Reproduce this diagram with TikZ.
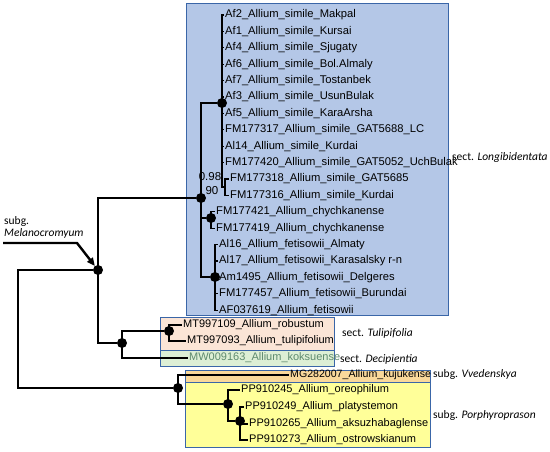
\documentclass[tikz,border=0pt]{standalone}
\usepackage{fontspec}
\setmainfont{Liberation Sans}
\newfontfamily\calfont{Carlito}
\usetikzlibrary{arrows.meta}
\definecolor{longblue}{HTML}{B4C7E7}
\definecolor{boxedge}{HTML}{3A66A8}
\definecolor{tulpink}{HTML}{FBE5D6}
\definecolor{decgreen}{HTML}{DDEFD5}
\definecolor{vvedorange}{HTML}{F9D89A}
\definecolor{porphyellow}{HTML}{FFFF99}
\definecolor{mwgreen}{HTML}{5E8A6E}

\begin{document}
\begin{tikzpicture}[x=1pt, y=-1pt,
  leaf/.style={anchor=west, inner sep=1pt, font=\fontsize{11.2}{13}\selectfont},
  leafs/.style={leaf, font=\fontsize{11}{13}\selectfont},
  grp/.style={anchor=west, inner sep=0pt, align=left, font=\calfont\fontsize{11.5}{12}\selectfont},
  supp/.style={inner sep=0pt, font=\fontsize{11.5}{13}\selectfont},
  dot/.style={circle, fill=black, inner sep=0pt, minimum size=10pt},
  br/.style={line width=1.3pt},
  cladebox/.style={draw=boxedge, line width=1pt}]

      \useasboundingbox (0,0) rectangle (550,451);

      \def\dy{16.4}

      % clade boxes
      \draw[cladebox, fill=longblue]    (186,3)   rectangle (448,315);
      \draw[cladebox, fill=tulpink]     (160,317) rectangle (334,350);
      \draw[cladebox, fill=decgreen]    (160,350) rectangle (334,366);
      \draw[cladebox, fill=vvedorange]  (185,370) rectangle (430,382);
      \draw[cladebox, fill=porphyellow] (185,382) rectangle (430,447);

      % internal nodes
      \node[dot] (dA) at (222,103) {};
      \node[dot] (dL) at (201,198) {};
      \node[dot] (dC) at (211,218) {};
      \node[dot] (dF) at (215,277) {};
      \node[dot] (dM) at (98,270) {};
      \node[dot] (dT) at (122,343) {};
      \node[dot] (dP) at (169,331) {};
      \node[dot] (dB) at (178,388) {};
      \node[dot] (dQ) at (228,404) {};
      \node[dot] (dR) at (240,421) {};
      \coordinate (s318) at (225,187);
      \coordinate (rt) at (18,329);

      % leaves of sect. Longibidentata
      \foreach \nm/\i/\txt in {af2/0/Af2\_Allium\_simile\_Makpal,
                               af1/1/Af1\_Allium\_simile\_Kursai,
                               af4/2/Af4\_Allium\_simile\_Sjugaty,
                               af6/3/Af6\_Allium\_simile\_Bol.Almaly,
                               af7/4/Af7\_Allium\_simile\_Tostanbek,
                               af3/5/Af3\_Allium\_simile\_UsunBulak,
                               af5/6/Af5\_Allium\_simile\_KaraArsha,
                               fm317/7/FM177317\_Allium\_simile\_GAT5688\_LC,
                               al14/8/Al14\_Allium\_simile\_Kurdai,
                               fm420/9/FM177420\_Allium\_simile\_GAT5052\_UchBulak}{
        \node[leaf] (\nm) at (224,{15+\dy*\i}) {\txt};
        \draw[br] (dA.center) |- (\nm.west);
      }
      \foreach \nm/\i/\txt in {fm318/10/FM177318\_Allium\_simile\_GAT5685,
                               fm316/11/FM177316\_Allium\_simile\_Kurdai}{
        \node[leaf] (\nm) at (229,{15+\dy*\i}) {\txt};
        \draw[br] (s318) |- (\nm.west);
      }
      \foreach \nm/\i/\txt in {fm421/12/FM177421\_Allium\_chychkanense,
                               fm419/13/FM177419\_Allium\_chychkanense}{
        \node[leaf] (\nm) at (215,{15+\dy*\i}) {\txt};
        \draw[br] (dC.center) |- (\nm.west);
      }
      \foreach \nm/\i/\txt in {al16/14/Al16\_Allium\_fetisowii\_Almaty,
                               al17/15/Al17\_Allium\_fetisowii\_Karasalsky r-n,
                               am1495/16/Am1495\_Allium\_fetisowii\_Delgeres,
                               fm457/17/FM177457\_Allium\_fetisowii\_Burundai,
                               af037/18/AF037619\_Allium\_fetisowii}{
        \node[leaf] (\nm) at (218,{15+\dy*\i}) {\txt};
        \draw[br] (dF.center) |- (\nm.west);
      }

      % other leaves
      \node[leafs] (mt109) at (182,325) {MT997109\_Allium\_robustum};
      \node[leafs] (mt093) at (186,341) {MT997093\_Allium\_tulipifolium};
      \node[leafs, text=mwgreen] (mw163) at (188,358) {MW009163\_Allium\_koksuense};
      \node[leafs, font=\fontsize{10.6}{12}\selectfont] (mg282) at (289,375) {MG282007\_Allium\_kujukense};
      \node[leafs] (pp245) at (240,390) {PP910245\_Allium\_oreophilum};
      \node[leafs] (pp249) at (244,407) {PP910249\_Allium\_platystemon};
      \node[leafs] (pp265) at (248,424) {PP910265\_Allium\_aksuzhabaglense};
      \node[leafs] (pp273) at (248,440) {PP910273\_Allium\_ostrowskianum};

      % branches
      \draw[br] (dA.center) |- (s318);
      \draw[br] (dL.center) |- (dA);
      \draw[br] (dL.center) |- (dC);
      \draw[br] (dL.center) |- (dF);
      \draw[br] (dM.center) |- (dL);
      \draw[br] (dM.center) |- (dT);
      \draw[br] (rt) |- (dM);
      \draw[br] (rt) |- (dB);
      \draw[br] (dT.center) |- (dP);
      \draw[br] (dT.center) |- (mw163.west);
      \draw[br] (dP.center) |- (mt109.west);
      \draw[br] (dP.center) |- (mt093.west);
      \draw[br] (dB.center) |- (mg282.west);
      \draw[br] (dB.center) |- (dQ);
      \draw[br] (dQ.center) |- (pp245.west);
      \draw[br] (dQ.center) |- (dR);
      \foreach \nm in {pp249,pp265,pp273}{
        \draw[br] (dR.center) |- (\nm.west);
      }

      % support values
      \node[supp] (pp) at (210,177) {0.98};
      \node[supp] (bs) at (212,191) {90};

      % group labels
      \node[grp] (gLong) at (452,157) {sect. \textit{Longibidentata}};
      \node[grp] (gTul)  at (342,333) {sect. \textit{Tulipifolia}};
      \node[grp] (gDec)  at (340,359) {sect. \textit{Decipientia}};
      \node[grp] (gVve)  at (433,374) {subg. \textit{Vvedenskya}};
      \node[grp] (gPor)  at (433,415) {subg. \textit{Porphyroprason}};
      \node[grp] (gMel)  at (4,227)   {subg.\\\textit{Melanocromyum}};

      \coordinate (mtail) at (3,243);
      \coordinate (mbend) at (77,243);
      \draw[line width=2.4pt, -{Triangle[length=8pt,width=7pt]}] (mtail) -- (mbend) -- (dM);

    \end{tikzpicture}
\end{document}
